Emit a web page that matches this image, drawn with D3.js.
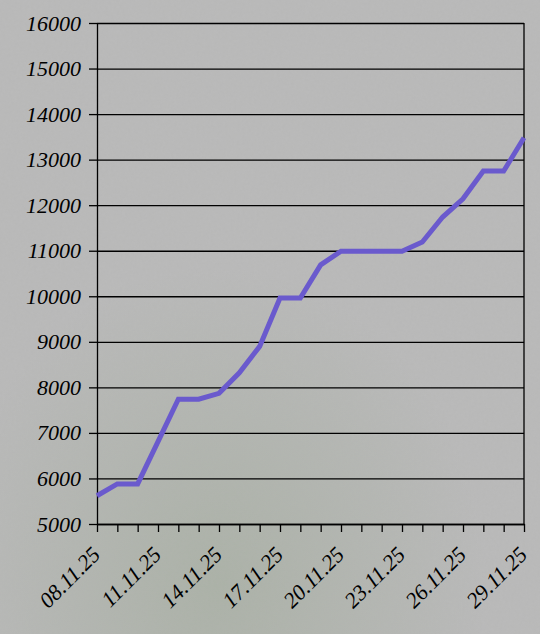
<!DOCTYPE html>
<html><head><meta charset="utf-8">
<script src="https://cdn.jsdelivr.net/npm/d3@7"></script>
<style>
html,body{margin:0;padding:0;background:#b4b4b2;}
svg{display:block;}
</style></head>
<body>
<svg id="chart" width="540" height="634"></svg>
<script>
const dates = ["08.11.25","09.11.25","10.11.25","11.11.25","12.11.25","13.11.25","14.11.25","15.11.25","16.11.25","17.11.25","18.11.25","19.11.25","20.11.25","21.11.25","22.11.25","23.11.25","24.11.25","25.11.25","26.11.25","27.11.25","28.11.25","29.11.25"];
const values = [5620,5880,5880,6810,7740,7740,7870,8320,8900,9960,9960,10690,10990,10990,10990,10990,11190,11740,12140,12750,12750,13480];
const yTicks = [5000,6000,7000,8000,9000,10000,11000,12000,13000,14000,15000,16000];
const xLabelEvery = 3;

const svg = d3.select("#chart");
const W = 540, H = 634;
const margin = {left: 97, top: 23, right: 16, bottom: 110};
const width = W - margin.left - margin.right;
const height = H - margin.top - margin.bottom;

// background texture
const defs = svg.append("defs");
const f = defs.append("filter").attr("id","tex").attr("x",0).attr("y",0).attr("width","100%").attr("height","100%");
f.append("feTurbulence").attr("type","fractalNoise").attr("baseFrequency",0.35).attr("numOctaves",3).attr("seed",4).attr("result","n");
f.append("feColorMatrix").attr("in","n").attr("type","matrix")
 .attr("values","0 0 0 0 0.45  0 0 0 0 0.45  0 0 0 0 0.44  0 0 0 0.6 -0.12");
const g2 = defs.append("radialGradient").attr("id","greenish").attr("cx","0.4").attr("cy","0.92").attr("r","0.5");
g2.append("stop").attr("offset","0").attr("stop-color","#8fa283").attr("stop-opacity",0.35);
g2.append("stop").attr("offset","1").attr("stop-color","#8fa283").attr("stop-opacity",0);
svg.append("rect").attr("width",W).attr("height",H).attr("fill","#bababa");
svg.append("rect").attr("width",W).attr("height",H).attr("fill","url(#greenish)");
svg.append("rect").attr("width",W).attr("height",H).attr("filter","url(#tex)").attr("opacity",0.65);

const g = svg.append("g").attr("transform",`translate(${margin.left},${margin.top})`);

const x = d3.scalePoint().domain(dates).range([0, width]);
const y = d3.scaleLinear().domain([5000,16000]).range([height, 0]);

const font = "'Liberation Serif', serif";

// grid
g.append("g").call(d3.axisLeft(y).tickValues(yTicks).tickSize(-width).tickFormat(""))
 .call(s => s.select(".domain").remove())
 .selectAll("line").attr("stroke","#000").attr("stroke-width",1.3);

// y axis
const ya = g.append("g").call(d3.axisLeft(y).tickValues(yTicks).tickSize(8).tickSizeOuter(0).tickPadding(8).tickFormat(d3.format("d")));
ya.select(".domain").attr("stroke","#000").attr("stroke-width",1.3);
ya.selectAll("line").attr("stroke","#000").attr("stroke-width",1.3);
ya.selectAll("text").attr("fill","#000").style("font-family",font).style("font-style","italic").style("font-size","22px");

// right border
g.append("line").attr("x1",width).attr("x2",width).attr("y1",0).attr("y2",height)
 .attr("stroke","#000").attr("stroke-width",1.3);

// x axis
const xa = g.append("g").attr("transform",`translate(0,${height})`)
 .call(d3.axisBottom(x).tickSize(8).tickSizeOuter(0).tickFormat((d,i)=> i % xLabelEvery === 0 ? d : ""));
xa.select(".domain").attr("stroke","#000").attr("stroke-width",1.3);
xa.selectAll("line").attr("stroke","#000").attr("stroke-width",1.3);
xa.selectAll("text").attr("fill","#000").style("font-family",font).style("font-style","italic").style("font-size","22px")
 .attr("text-anchor","end").attr("dy",0).attr("y",0)
 .attr("transform","translate(4,32) rotate(-45)");

// line
g.append("path").datum(values)
 .attr("fill","none").attr("stroke","#6a5acd").attr("stroke-width",5).attr("stroke-linejoin","miter")
 .attr("d", d3.line().x((d,i)=>x(dates[i])).y(d=>y(d)));
</script>
</body></html>
